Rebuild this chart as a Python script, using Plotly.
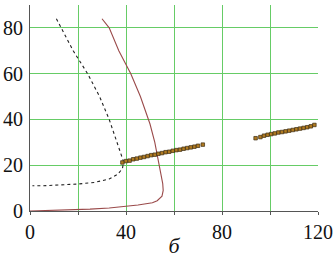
import plotly.graph_objects as go

# Dotted curve (black)
dot_x = [11, 13, 18, 24, 29, 33, 35.5, 37.5, 39, 38.5, 36.5, 33, 27, 20, 12, 5, 1]
dot_y = [84, 80, 70, 60, 50, 40, 32, 26, 21.5, 18.5, 16, 14, 12.5, 11.8, 11.2, 11, 11]

# Dark red curve
red_x = [30, 33, 37, 42, 46, 50, 52, 54, 55.3, 55.5, 55, 53, 51, 45, 38, 33, 25, 15, 5, 0]
red_y = [84, 80, 70, 60, 50, 38, 30, 20, 12, 9, 6.5, 4.5, 3.6, 2.6, 1.8, 1.3, 0.8, 0.4, 0.1, 0]

# Scatter clusters
sc1_x = [38.5, 40, 41.5, 43, 44.5, 46, 47.5, 49, 50.5, 52, 53.5, 55, 56.5, 58, 59.5, 61, 62.5, 64, 65.5, 67, 68.5, 70, 72]
sc1_y = [21.2, 21.8, 22.0, 22.6, 22.9, 23.3, 23.6, 24.0, 24.4, 24.6, 25.0, 25.3, 25.7, 25.9, 26.3, 26.6, 26.8, 27.2, 27.5, 27.8, 28.1, 28.5, 29.0]
sc2_x = [94, 96, 97.5, 99, 100.5, 102, 103.5, 105, 106.5, 108, 109.5, 111, 112.5, 114, 115.5, 117, 118.5]
sc2_y = [31.8, 32.3, 32.9, 33.3, 33.6, 33.9, 34.3, 34.5, 34.8, 35.1, 35.4, 35.7, 36.0, 36.3, 36.6, 37.0, 37.6]

x_ticks = [0, 20, 40, 60, 80, 100, 120]
x_labels = ["0", "", "40", "", "80", "", "120"]
y_ticks = [0, 20, 40, 60, 80]

fig = go.Figure()
fig.add_trace(go.Scatter(x=red_x, y=red_y, mode="lines",
                         line=dict(color="#9a4a4a", width=1.1)))
fig.add_trace(go.Scatter(x=dot_x, y=dot_y, mode="lines",
                         line=dict(color="#222222", width=1.1, dash="dot")))
for sx, sy in [(sc1_x, sc1_y), (sc2_x, sc2_y)]:
    fig.add_trace(go.Scatter(x=sx, y=sy, mode="markers",
                             marker=dict(symbol="square", size=3.5, color="#b07a20",
                                         line=dict(color="#3a2a10", width=0.7))))

serif = "Times New Roman, Tinos, Liberation Serif, DejaVu Serif, Noto Serif, serif"
fig.update_layout(
    width=333, height=258,
    margin=dict(l=30, r=15, t=5, b=47),
    paper_bgcolor="white", plot_bgcolor="white",
    showlegend=False,
    font=dict(family=serif, size=19, color="#111"),
    xaxis=dict(range=[0, 120], tickvals=x_ticks, ticktext=x_labels,
               showgrid=True, gridcolor="#66cc66", gridwidth=1,
               zeroline=False, showline=True, linecolor="#555", linewidth=1,
               ticks="outside", ticklen=3, tickcolor="#555",
               tickfont=dict(family=serif, size=20),
               title=dict(text="<i>б</i>", font=dict(family=serif, size=22), standoff=0),
               automargin=False, fixedrange=True),
    yaxis=dict(range=[0, 90], tickvals=y_ticks,
               showgrid=True, gridcolor="#66cc66", gridwidth=1,
               zeroline=False, showline=True, linecolor="#555", linewidth=1,
               ticks="", ticklabelstandoff=2,
               tickfont=dict(family=serif, size=20),
               automargin=False, fixedrange=True),
)
fig.write_html("out.html", config={"displayModeBar": False},
               post_script="document.body.style.margin='0';document.body.style.overflow='hidden';")
